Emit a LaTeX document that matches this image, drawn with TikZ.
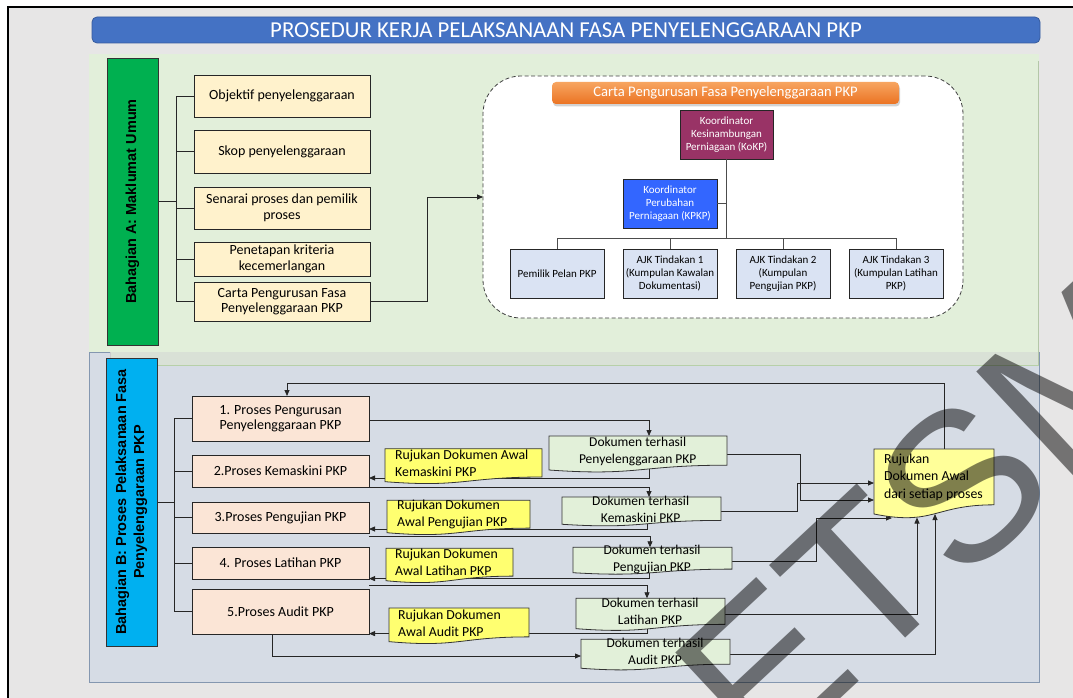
\documentclass[tikz,border=0pt]{standalone}
\usepackage{fontspec}
\setmainfont{Carlito}
\newfontfamily\arialfont{Liberation Sans}
\usetikzlibrary{calc,arrows.meta,shadows}
\pgfdeclarelayer{bg}\pgfdeclarelayer{conn}\pgfdeclarelayer{docs}\pgfdeclarelayer{wm}
\pgfsetlayers{bg,conn,docs,main,wm}
\definecolor{framebg}{HTML}{E7E6E6}
\definecolor{secA}{HTML}{E2EFDA}
\definecolor{secB}{HTML}{D6DCE5}
\definecolor{secBline}{HTML}{8497B0}
\definecolor{band}{HTML}{D9E1D6}
\definecolor{labgreen}{HTML}{00B050}
\definecolor{labblue}{HTML}{00B0F0}
\definecolor{itemyel}{HTML}{FFF2CC}
\definecolor{titleblue}{HTML}{4472C4}
\definecolor{kokpc}{HTML}{993366}
\definecolor{kpkpc}{HTML}{3366FF}
\definecolor{orgbox}{HTML}{DAE3F3}
\definecolor{peach}{HTML}{FBE5D6}
\definecolor{docgreen}{HTML}{E2F0D9}
\definecolor{docyel}{HTML}{FFFF70}
\definecolor{bigyel}{HTML}{FFFF99}
\definecolor{orangeT}{HTML}{F7A561}
\definecolor{orangeB}{HTML}{EB7322}
\definecolor{wmgray}{HTML}{7F7F7F}
\newcommand\rectnode[7]{\node[#1,minimum width={(#5)-(#3)},minimum height={(#6)-(#4)}] (#2) at ({((#3)+(#5))/2},{((#4)+(#6))/2}) {#7};}
\newcommand\docoutline[2]{\begin{pgfonlayer}{docs}\draw[line width=0.8pt,draw=black!80,fill=#2] let \p1=(#1.north west), \p2=(#1.south east) in (\x1,\y1) -- (\x2,\y1) -- (\x2,{\y1+0.802*(\y2-\y1)}) .. controls ({0.5*(\x1+\x2)},{\y1+0.802*(\y2-\y1)}) and ({0.5*(\x1+\x2)},{\y1+1.107*(\y2-\y1)}) .. (\x1,{\y1+0.934*(\y2-\y1)}) -- cycle;\end{pgfonlayer}}
\begin{document}
\begin{tikzpicture}[x=1pt,y=-1pt,
  conn/.style={draw=black!85,line width=0.8pt},
  arr/.style={conn,-{Triangle[length=6pt,width=5pt]}},
  base/.style={inner sep=0pt,outer sep=0pt,align=center,line width=0.8pt},
  itemA/.style={base,draw=black!85,fill=itemyel,font=\fontsize{14}{15.5}\selectfont},
  lab/.style={base,draw=black!80,font=\arialfont\bfseries\fontsize{14.5}{18}\selectfont,text=black},
  orgb/.style={base,draw=black!85,fill=orgbox,font=\fontsize{11}{12.7}\selectfont},
  proc/.style={base,draw=black!85,fill=peach,font=\fontsize{14}{15}\selectfont},
  docnode/.style={base},
  dtext/.style={inner sep=0pt,align=center,font=\fontsize{13.5}{17}\selectfont},
  ytext/.style={inner sep=0pt,align=left,anchor=west,font=\fontsize{13.8}{17}\selectfont},
  orgline/.style={draw=black!70,line width=1pt}]
\clip (0,0) rectangle (1073,698);
\useasboundingbox (0,0) rectangle (1073,698);
\begin{pgfonlayer}{bg}
\fill[white] (0,0) rectangle (1073,698);
\draw[line width=2.2pt,fill=framebg] (8,7) rectangle (1100,720);
\fill[secB] (89,352) rectangle (1039,682);
\draw[secBline,line width=0.6pt] (89,352) rectangle (1039,682);
\fill[secA] (89,54) rectangle (1039,352);
\fill[band] (110,352) rectangle (1039,365);
\draw[draw=black!20,line width=0.5pt] (110,352) -- (110,365);
\draw[draw={rgb,255:red,183;green,208;blue,168},line width=1pt] (110,365) -- (1039,365);
\draw[draw={rgb,255:red,180;green,199;blue,168},line width=0.8pt] (1038,61) -- (1038,365);
\end{pgfonlayer}
% title
\rectnode{base,fill=titleblue,draw=titleblue!80!black,rounded corners=5pt,text=white,font=\fontsize{22.8}{24}\selectfont}{title}{92}{17}{1040}{43}{PROSEDUR KERJA PELAKSANAAN FASA PENYELENGGARAAN PKP}
% section A
\node[lab,fill=labgreen,minimum width=287,minimum height=51,rotate=90] (labA) at (132.5,201.5) {Bahagian A: Maklumat Umum};
\rectnode{itemA}{i1}{194}{75}{370}{117}{Objektif penyelenggaraan}
\rectnode{itemA}{i2}{194}{130}{370}{173}{Skop penyelenggaraan}
\rectnode{itemA}{i3}{194}{187}{370}{229}{Senarai proses dan pemilik\\proses}
\rectnode{itemA}{i4}{194}{242}{370}{276}{Penetapan kriteria\\kecemerlangan}
\rectnode{itemA}{i5}{194}{282}{370}{321}{Carta Pengurusan Fasa\\Penyelenggaraan PKP}
\coordinate (busA) at (176,202);
% chart
\rectnode{base,draw=black!75,fill=white,dash pattern=on 4pt off 2.5pt,rounded corners=38pt}{chart}{483}{76}{963}{318}{}
\rectnode{base,draw=none,top color=orangeT,bottom color=orangeB,rounded corners=4pt,text=white,font=\fontsize{14.6}{16}\selectfont,drop shadow={shadow xshift=1pt,shadow yshift=-2.5pt,opacity=0.35}}{ctitle}{552}{82}{899}{104}{Carta Pengurusan Fasa Penyelenggaraan PKP}
\rectnode{orgb,fill=kokpc,text=white}{kokp}{680}{110}{773}{159}{Koordinator\\Kesinambungan\\Perniagaan (KoKP)}
\rectnode{orgb,fill=kpkpc,text=white}{kpkp}{623}{179}{717}{228}{Koordinator\\Perubahan\\Perniagaan (KPKP)}
\rectnode{orgb}{o1}{510}{249}{604}{298}{Pemilik Pelan PKP}
\rectnode{orgb}{o2}{623}{249}{717}{298}{AJK Tindakan 1\\(Kumpulan Kawalan\\Dokumentasi)}
\rectnode{orgb}{o3}{736}{249}{830}{298}{AJK Tindakan 2\\(Kumpulan\\Pengujian PKP)}
\rectnode{orgb}{o4}{849}{249}{943}{298}{AJK Tindakan 3\\(Kumpulan Latihan\\PKP)}
\coordinate (hb) at (727,238);
\draw[orgline] (kokp.south) -- (kokp.south |- hb);
\draw[orgline] (kpkp.east) -- (kpkp.east -| kokp.south);
\draw[orgline] (o1.north |- hb) -- (o4.north |- hb);
\draw[orgline] (o1.north) -- (o1.north |- hb);
\draw[orgline] (o2.north) -- (o2.north |- hb);
\draw[orgline] (o3.north) -- (o3.north |- hb);
\draw[orgline] (o4.north) -- (o4.north |- hb);
\draw[arr] (i5.east) -- ++(57,0) |- (chart.west);
% section B
\node[lab,fill=labblue,minimum width=288,minimum height=51,rotate=90] (labB) at (131.5,502) {Bahagian B: Proses Pelaksanaan Fasa\\Penyelenggaraan PKP};
\rectnode{proc}{p1}{192}{396}{369}{441}{1. Proses Pengurusan\\Penyelenggaraan PKP}
\rectnode{proc}{p2}{192}{455}{369}{487}{2.Proses Kemaskini PKP}
\rectnode{proc}{p3}{192}{502}{369}{533}{3.Proses Pengujian PKP}
\rectnode{proc}{p4}{192}{547}{369}{579}{4. Proses Latihan PKP}
\rectnode{proc}{p5}{192}{589}{369}{634}{5.Proses Audit PKP}
\coordinate (busB) at (174,503);
% documents
\rectnode{docnode}{d1}{549}{436}{727}{472.4}{}
\rectnode{docnode}{d2}{562}{497}{721}{526.2}{}
\rectnode{docnode}{d3}{573}{547.3}{732}{574.5}{}
\rectnode{docnode}{d4}{576}{598.3}{725}{630.8}{}
\rectnode{docnode}{d5}{581}{639.3}{730}{670.3}{}
\rectnode{docnode}{y1}{385}{448.7}{542}{484}{}
\rectnode{docnode}{y2}{387}{500.3}{530}{535}{}
\rectnode{docnode}{y3}{386}{548.3}{513}{583}{}
\rectnode{docnode}{y4}{389}{608}{529}{644}{}
\rectnode{docnode}{big}{874}{449}{994}{518.6}{}
\docoutline{d1}{docgreen}\docoutline{d2}{docgreen}\docoutline{d3}{docgreen}\docoutline{d4}{docgreen}\docoutline{d5}{docgreen}
\docoutline{y1}{docyel}\docoutline{y2}{docyel}\docoutline{y3}{docyel}\docoutline{y4}{docyel}
\docoutline{big}{bigyel}
\node[dtext] (d1t) at (637.7,451.3) {Dokumen terhasil\\Penyelenggaraan PKP};
\node[dtext] (d2t) at (640.7,509) {Dokumen terhasil\\Kemaskini PKP};
\node[dtext] (d3t) at (652,559) {Dokumen terhasil\\Pengujian PKP};
\node[dtext] (d4t) at (650,611.3) {Dokumen terhasil\\Latihan PKP};
\node[dtext] (d5t) at (655,651.7) {Dokumen terhasil\\Audit PKP};
\node[ytext] (y1t) at (395,463.5) {Rujukan Dokumen Awal\\Kemaskini PKP};
\node[ytext] (y2t) at (397,514.3) {Rujukan Dokumen\\Awal Pengujian PKP};
\node[ytext] (y3t) at (395,562.3) {Rujukan Dokumen\\Awal Latihan PKP};
\node[ytext] (y4t) at (398,623) {Rujukan Dokumen\\Awal Audit PKP};
\node[ytext,font=\fontsize{13.8}{17.3}\selectfont] (bigt) at (884,477.3) {Rujukan\\Dokumen Awal\\dari setiap proses};
% connectors
\begin{pgfonlayer}{conn}
\draw[conn] (labA.south) -- (labA.south -| busA);
\draw[conn] (i1.west) -- (i1.west -| busA) -- (i5.west -| busA) -- (i5.west);
\draw[conn] (i2.west) -- (i2.west -| busA);
\draw[conn] (i3.west) -- (i3.west -| busA);
\draw[conn] (i4.west) -- (i4.west -| busA);
\draw[conn] (labB.south) -- (labB.south -| busB);
\draw[conn] (p1.west) -- (p1.west -| busB) -- (p5.west -| busB) -- (p5.west);
\draw[conn] (p2.west) -- (p2.west -| busB);
\draw[conn] (p3.west) -- (p3.west -| busB);
\draw[conn] (p4.west) -- (p4.west -| busB);
\draw[arr] ([yshift=-2]p1.east) -| ([xshift=11]d1.north);
\draw[arr] ([xshift=11]d1.center) |- ([yshift=-7]p2.east);
\draw[arr] (p2.south east) -| ([xshift=7.5]d2.north);
\draw[arr] ([xshift=6]d2.center) |- ([yshift=-11.5]p3.east);
\draw[arr] ([yshift=-3]p3.south east) -| ([xshift=-2.5]d3.north);
\draw[arr] ([xshift=-3.5]d3.center) |- ([yshift=0.4]p4.south east);
\draw[arr] ([yshift=-6]p4.south east) -| ([xshift=-3.5]d4.north);
\draw[arr] ([xshift=-3.5]d4.center) |- ([yshift=0.4]p5.south east);
\draw[arr] ([xshift=-8.5]p5.south) |- ([yshift=-1.2]d5.west);
\draw[arr] (d1.east) -- ++(73,0) |- ([yshift=-51]big.north west);
\draw[arr] (d2.east) -- ++(76,0) |- ([yshift=-34]big.north west);
\draw[arr] (d3.east) -- ++(84,0) |- ([shift={(18,69)}]big.north west);
\draw[arr] (d4.east) -| ([shift={(43,68.5)}]big.north west);
\draw[arr] (d5.east) -| ([shift={(61,65)}]big.north west);
\draw[arr] ([xshift=10]big.north) -- ++(0,-66) -| ([xshift=6.5]p1.north);
\end{pgfonlayer}
% watermark
\begin{pgfonlayer}{wm}
\node[inner sep=0pt,anchor=base west,rotate=43,text=wmgray,blend mode=multiply,font=\arialfont\fontsize{212}{212}\selectfont] (wmark) at (762,772) {ETSM};
\end{pgfonlayer}
\end{tikzpicture}
\end{document}
